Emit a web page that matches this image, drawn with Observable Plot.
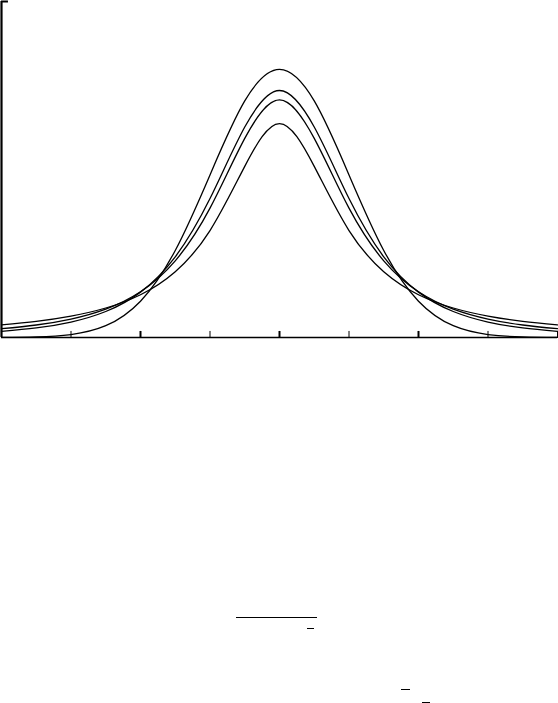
<!DOCTYPE html>
<html>
<head>
<meta charset="utf-8">
<script src="https://cdn.jsdelivr.net/npm/d3@7"></script>
<script src="https://cdn.jsdelivr.net/npm/@observablehq/plot@0.6"></script>
<style>
  html, body { margin: 0; padding: 0; background: #fff; }
  #wrap { position: relative; width: 558px; height: 703px; overflow: hidden; }
  .bar { position: absolute; height: 0; border-top: 1.3px solid #000; }
</style>
</head>
<body>
<div id="wrap">
  <div id="chart"></div>
  <div class="bar" style="left:236px; top:617px; width:81px;"></div>
  <div class="bar" style="left:307px; top:628px; width:7px;"></div>
  <div class="bar" style="left:401px; top:689px; width:9px;"></div>
  <div class="bar" style="left:422px; top:702px; width:8px;"></div>
</div>
<script>
// x positions where the curves were read
const xs = [-4, -3.5, -3, -2.5, -2, -1.5, -1, -0.5, 0, 0.5, 1, 1.5, 2, 2.5, 3, 3.5, 4];
// density curves (highest peak to lowest peak)
const normal = [0.00013, 0.00087, 0.00443, 0.01753, 0.05399, 0.12952, 0.24197, 0.35207, 0.39894, 0.35207, 0.24197, 0.12952, 0.05399, 0.01753, 0.00443, 0.00087, 0.00013];
const t3     = [0.00916, 0.01422, 0.02297, 0.03866, 0.06751, 0.12002, 0.20675, 0.31318, 0.36755, 0.31318, 0.20675, 0.12002, 0.06751, 0.03866, 0.02297, 0.01422, 0.00916];
const t2     = [0.01309, 0.01859, 0.02741, 0.04220, 0.06804, 0.11413, 0.19245, 0.29630, 0.35355, 0.29630, 0.19245, 0.11413, 0.06804, 0.04220, 0.02741, 0.01859, 0.01309];
const t1     = [0.01872, 0.02402, 0.03183, 0.04390, 0.06366, 0.09794, 0.15915, 0.25465, 0.31831, 0.25465, 0.15915, 0.09794, 0.06366, 0.04390, 0.03183, 0.02402, 0.01872];
const seriesNames = ["normal", "t3", "t2", "t1"];
const xTicks = [-4, -3, -2, -1, 0, 1, 2, 3, 4];
const majorTicks = [-2, 0, 2];

const seriesVals = [normal, t3, t2, t1];
const rows = [];
seriesNames.forEach((name, i) => {
  xs.forEach((x, j) => rows.push({series: name, x, y: seriesVals[i][j]}));
});

const chart = Plot.plot({
  width: 558,
  height: 340,
  marginLeft: 1,
  marginRight: 1,
  marginTop: 1,
  marginBottom: 3,
  x: {domain: [-4, 4], axis: null},
  y: {domain: [0, 0.5], axis: null},
  style: {background: "#fff"},
  marks: [
    Plot.line(rows, {x: "x", y: "y", z: "series", stroke: "#000", strokeWidth: 1.3, curve: "natural"}),
    // x axis line
    Plot.ruleY([0], {stroke: "#000", strokeWidth: 1.6}),
    // y axis line
    Plot.ruleX([-4], {stroke: "#000", strokeWidth: 2.2}),
    // y tick at top
    Plot.ruleY([0.5], {x1: -4, x2: -3.9, stroke: "#000", strokeWidth: 2}),
    // x ticks pointing inward
    Plot.ruleX(xTicks.filter(d => !majorTicks.includes(d)), {x: d => d, y1: 0, y2: 0.009, stroke: "#000", strokeWidth: 1}),
    Plot.ruleX(majorTicks, {x: d => d, y1: 0, y2: 0.009, stroke: "#000", strokeWidth: 2})
  ]
});
document.getElementById("chart").appendChild(chart);
</script>
</body>
</html>
